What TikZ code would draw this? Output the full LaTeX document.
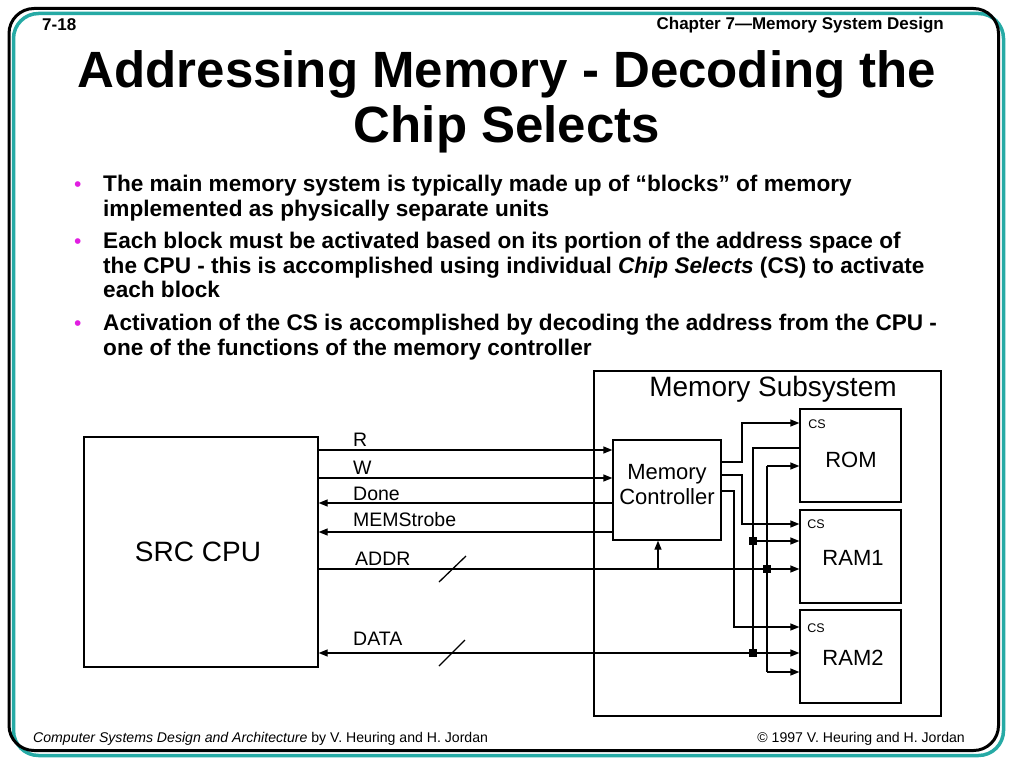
\documentclass[tikz,border=0pt]{standalone}
\usepackage{fontspec}
\setmainfont{Liberation Sans}
\usetikzlibrary{arrows.meta}
\definecolor{frameteal}{RGB}{38,170,165}
\definecolor{bulletmag}{RGB}{225,30,225}
\begin{document}
\begin{tikzpicture}[x=1pt,y=-1pt,
  box/.style={draw, line width=1.3pt, inner sep=0pt},
  sig/.style={line width=1.3pt, -{Triangle[length=9pt,width=7pt]}},
  bisig/.style={line width=1.3pt, {Triangle[length=9pt,width=7pt]}-{Triangle[length=9pt,width=7pt]}},
  wire/.style={line width=1.3pt},
  lbl/.style={inner sep=0pt, font=\fontsize{19.5}{22}\selectfont, anchor=base west},
  junc/.style={fill=black, minimum size=8pt, inner sep=0pt, draw=none},
  bodytext/.style={inner sep=0pt, anchor=base west, font=\fontsize{22.6}{24}\selectfont\bfseries},
  bulletdot/.style={inner sep=0pt, anchor=base west, text=bulletmag, font=\fontsize{21}{21}\selectfont},
  titletext/.style={inner sep=0pt, anchor=base, font=\fontsize{51}{55}\selectfont\bfseries},
  hdr/.style={inner sep=0pt, font=\fontsize{17}{18}\selectfont\bfseries},
  ftr/.style={inner sep=0pt, font=\fontsize{14.1}{16}\selectfont},
  boxtext/.style={inner sep=0pt, font=\fontsize{22}{26}\selectfont, align=center},
  cstext/.style={inner sep=0pt, font=\fontsize{12.5}{14}\selectfont}
]
\useasboundingbox (0,0) rectangle (1024,768);
% frame
\draw[frameteal, line width=3.5pt, rounded corners=25pt] (13.5,13.5) rectangle (1003.5,755.5);
\draw[black, line width=3pt, rounded corners=25pt] (9,8.5) rectangle (998.5,750.5);
% header / footer
\node[hdr, anchor=west] (pg) at (42,25) {7-18};
\node[hdr, anchor=east] (chap) at (944,25) {Chapter 7—Memory System Design};
\node[ftr, anchor=west] (book) at (33,739) {\textit{Computer Systems Design and Architecture} by V. Heuring and H. Jordan};
\node[ftr, anchor=east] (copy) at (965,739) {© 1997 V. Heuring and H. Jordan};
% title
\node[titletext] (t1) at (507,87) {Addressing Memory - Decoding the};
\node[titletext] (t2) at (507,142) {Chip Selects};
% bullets
\node[bulletdot] (d1) at (74,191.5) {•};
\node[bodytext] (b1a) at (103,191.5) {The main memory system is typically made up of “blocks” of memory};
\node[bodytext] (b1b) at (103,216) {implemented as physically separate units};
\node[bulletdot] (d2) at (74,248.5) {•};
\node[bodytext] (b2a) at (103,248.5) {Each block must be activated based on its portion of the address space of};
\node[bodytext] (b2b) at (103,273) {the CPU - this is accomplished using individual \textit{Chip Selects} (CS) to activate};
\node[bodytext] (b2c) at (103,297.5) {each block};
\node[bulletdot] (d3) at (74,330.5) {•};
\node[bodytext] (b3a) at (103,330.5) {Activation of the CS is accomplished by decoding the address from the CPU -};
\node[bodytext] (b3b) at (103,355) {one of the functions of the memory controller};
% boxes
\node[box, minimum width=234pt, minimum height=230pt] (cpu) at (201,552) {};
\node[boxtext, font=\fontsize{28}{30}\selectfont] (cpulbl) at (198,552) {SRC CPU};
\node[box, minimum width=347pt, minimum height=345pt] (sub) at (767.5,543.5) {};
\node[boxtext, font=\fontsize{28}{30}\selectfont] (sublbl) at (773,389) {Memory Subsystem};
\node[box, fill=white, minimum width=108pt, minimum height=100pt] (ctrl) at (667,490) {};
\node[boxtext] (ctrllbl) at (667,485) {Memory\\[-1pt]Controller};
\node[box, minimum width=101pt, minimum height=93pt] (rom) at (850.5,455.5) {};
\node[boxtext] (romlbl) at (851,460) {ROM};
\node[cstext] (romcs) at (817,424) {CS};
\node[box, minimum width=101pt, minimum height=93pt] (ram1) at (850.5,556.5) {};
\node[boxtext] (ram1lbl) at (853,558) {RAM1};
\node[cstext] (ram1cs) at (816,524) {CS};
\node[box, minimum width=101pt, minimum height=93pt] (ram2) at (850.5,656.5) {};
\node[boxtext] (ram2lbl) at (853,658) {RAM2};
\node[cstext] (ram2cs) at (816,628) {CS};
% y levels
\coordinate (yR) at (0,450);
\coordinate (yW) at (0,478);
\coordinate (yDone) at (0,503);
\coordinate (yMS) at (0,532);
\coordinate (yA) at (0,569);
\coordinate (yD) at (0,653);
% CPU signals
\draw[sig] (cpu.east |- yR) -- (ctrl.west |- yR);
\draw[sig] (cpu.east |- yW) -- (ctrl.west |- yW);
\draw[sig] (ctrl.west |- yDone) -- (cpu.east |- yDone);
\draw[sig] (ctrl.west |- yMS) -- (cpu.east |- yMS);
\draw[sig] (cpu.east |- yA) -- (ram1.west |- yA);
\draw[bisig] (cpu.east |- yD) -- (ram2.west |- yD);
\node[lbl] (lR) at (353,446.5) {R};
\node[lbl] (lW) at (353,474) {W};
\node[lbl] (lDone) at (353,500) {Done};
\node[lbl] (lMS) at (353,526) {MEMStrobe};
\node[lbl] (lA) at (355,565) {ADDR};
\node[lbl] (lD) at (353,645) {DATA};
% bus width slashes
\coordinate (sa1) at (439,582); \coordinate (sa2) at (466,556);
\coordinate (sd1) at (439,666); \coordinate (sd2) at (465,640);
\draw[wire] (sa1) -- (sa2);
\draw[wire] (sd1) -- (sd2);
% address to controller
\coordinate (atap) at (658,569);
\draw[sig] (atap) -- (ctrl.south -| atap);
% chip selects
\draw[sig] (ctrl.east |- 0,462) -- (742,462) -- (742,423) -- (rom.west |- 0,423);
\draw[sig] (ctrl.east |- 0,475) -- (742,475) -- (742,524) -- (ram1.west |- 0,524);
\draw[sig] (ctrl.east |- 0,491) -- (734,491) -- (734,627) -- (ram2.west |- 0,627);
% data bus
\coordinate (dtop) at (753,448);
\node[junc] (jd1) at (753,541) {};
\node[junc] (jd2) at (753,653) {};
\draw[wire] (rom.west |- dtop) -- (dtop) -- (jd2.center);
\draw[sig] (jd1.center) -- (ram1.west |- jd1);
% address bus
\coordinate (atop) at (767,466);
\coordinate (abot) at (767,672);
\node[junc] (ja) at (767,569) {};
\draw[wire] (atop) -- (abot);
\draw[sig] (atop) -- (rom.west |- atop);
\draw[sig] (abot) -- (ram2.west |- abot);
\end{tikzpicture}
\end{document}
